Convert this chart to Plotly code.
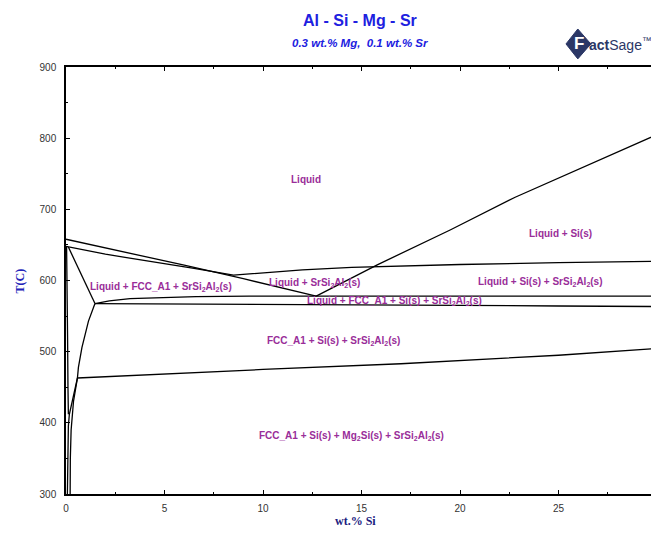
import plotly.graph_objects as go

# ---- Data ----
# Liquidus of FCC_A1 (Al) side, ends at the eutectic V
liqA_x = [0, 3, 6, 9, 12.7]
liqA_T = [658, 640, 621.5, 602.5, 578]
# SrSi2Al2 appearance line
srB_x = [0, 1, 2, 3, 4.5, 6.5, 8.5, 10, 12, 14.5, 17, 20, 25, 30]
srB_T = [648, 642, 637, 632.5, 626, 617, 607.5, 611, 615, 618.5, 620.5, 622.5, 625, 627]
# Si liquidus
siL_x = [12.7, 15.8, 19.5, 22.8, 30]
siL_T = [578, 622, 671, 717, 805]
# Solidus-type line from the Al corner to the kink
solD_x = [0.12, 1.47]
solD_T = [647, 567.6]
# Upper boundary of the four-phase band
up4_x = [1.47, 2.2, 3.25, 5, 6.6, 9.3, 12.7, 20, 30]
up4_T = [567.6, 571.5, 574.5, 576.3, 577.3, 578, 578, 578, 578]
# Lower boundary of the four-phase band
lo4_x = [1.47, 5, 10, 15, 20, 25, 30]
lo4_T = [567.6, 567.3, 566.8, 566, 565, 564.2, 563.4]
# Si solvus in FCC_A1
solvE_x = [1.47, 1.14, 0.81, 0.63, 0.58, 0.38, 0.26, 0.22, 0.21]
solvE_T = [567.6, 543, 506, 478, 463, 430, 390, 350, 300]
# Mg2Si solvus
mgF_x = [0.58, 0.36, 0.17, 0.12, 0.09, 0.07]
mgF_T = [463, 437, 412, 395, 350, 300]
# Near-axis line
axG_x = [0.03, 0.06, 0.08, 0.1, 0.12]
axG_T = [648, 600, 520, 450, 412]
# Mg2Si formation line
mgH_x = [0.58, 5.5, 10, 17, 25, 30]
mgH_T = [463, 469.5, 475, 483, 495, 504.5]

curves = [(liqA_x, liqA_T), (srB_x, srB_T), (siL_x, siL_T), (solD_x, solD_T),
          (up4_x, up4_T), (lo4_x, lo4_T), (solvE_x, solvE_T), (mgF_x, mgF_T),
          (axG_x, axG_T), (mgH_x, mgH_T)]

# Region labels
label_text = [
    "Liquid",
    "Liquid + Si(s)",
    "Liquid + FCC_A1 + SrSi<sub>2</sub>Al<sub>2</sub>(s)",
    "Liquid + SrSi<sub>2</sub>Al<sub>2</sub>(s)",
    "Liquid + Si(s) + SrSi<sub>2</sub>Al<sub>2</sub>(s)",
    "Liquid + FCC_A1 + Si(s) + SrSi<sub>2</sub>Al<sub>2</sub>(s)",
    "FCC_A1 + Si(s) + SrSi<sub>2</sub>Al<sub>2</sub>(s)",
    "FCC_A1 + Si(s) + Mg<sub>2</sub>Si(s) + SrSi<sub>2</sub>Al<sub>2</sub>(s)",
]
label_x = [12.2, 25.1, 4.8, 12.6, 24.1, 16.7, 13.6, 14.5]
label_T = [742, 666, 590.5, 596, 597.5, 570.5, 515, 382]

x_ticks = [0, 5, 10, 15, 20, 25, 30]
y_ticks = [300, 400, 500, 600, 700, 800, 900]

# ---- Figure ----
fig = go.Figure()
for cx, cy in curves:
    fig.add_trace(go.Scatter(x=cx, y=cy, mode="lines",
                             line=dict(color="black", width=1.3),
                             hoverinfo="skip", showlegend=False))

label_font = dict(family="Liberation Sans, Arial", size=10, color="#992D99")
for t, lx, ly in zip(label_text, label_x, label_T):
    fig.add_annotation(x=lx, y=ly, xref="x", yref="y", text="<b>" + t + "</b>",
                       showarrow=False, font=label_font, xanchor="center", yanchor="middle")

# Title and subtitle
fig.add_annotation(xref="paper", yref="paper", x=0.497, y=1.110, xanchor="center", yanchor="middle",
                   text="<b>Al - Si - Mg - Sr</b>", showarrow=False,
                   font=dict(family="Liberation Sans, Arial", size=16, color="#2020E0"))
fig.add_annotation(xref="paper", yref="paper", x=0.497, y=1.056, xanchor="center", yanchor="middle",
                   text="<b><i>0.3 wt.% Mg,  0.1 wt.% Sr</i></b>", showarrow=False,
                   font=dict(family="Liberation Sans, Arial", size=11.5, color="#2020E0"))

# FactSage logo (decoration)
fig.add_shape(type="path", xref="paper", yref="paper",
              path="M 0.846 1.054 L 0.866 1.089 L 0.888 1.054 L 0.866 1.019 Z",
              fillcolor="#2B3766", line=dict(color="#2B3766", width=1))
fig.add_annotation(xref="paper", yref="paper", x=0.868, y=1.054, xanchor="center", yanchor="middle",
                   text="<b>F</b>", showarrow=False,
                   font=dict(family="Liberation Sans, Arial", size=17, color="white"))
fig.add_annotation(xref="paper", yref="paper", x=0.882, y=1.054, xanchor="left", yanchor="middle",
                   text="<b>act</b>Sage<sup>™</sup>", showarrow=False,
                   font=dict(family="Liberation Sans, Arial", size=14, color="#2B3766"))

# Axis titles
fig.add_annotation(xref="paper", yref="paper", x=-0.078, y=0.5, xanchor="center", yanchor="middle",
                   text="<b>T(C)</b>", textangle=-90, showarrow=False,
                   font=dict(family="Liberation Serif, Times New Roman", size=12, color="#2424B8"))
fig.add_annotation(xref="paper", yref="paper", x=0.49, y=-0.063, xanchor="center", yanchor="middle",
                   text="<b>wt.% Si</b>", showarrow=False,
                   font=dict(family="Liberation Serif, Times New Roman", size=12, color="#1C1C80"))

axis_common = dict(showline=True, linecolor="black", linewidth=1.5, mirror="ticks",
                   ticks="inside", ticklen=4, tickwidth=1, tickcolor="black",
                   showgrid=False, zeroline=False, automargin=False,
                   ticklabeloverflow="allow",
                   tickfont=dict(family="Liberation Sans, Arial", size=10, color="#333333"))

fig.update_xaxes(range=[0, 30], tickvals=x_ticks,
                 minor=dict(dtick=2.5, ticks="inside", ticklen=2, tickcolor="black", showgrid=False),
                 ticklabelstandoff=4, **axis_common)
fig.update_yaxes(range=[300, 900], tickvals=y_ticks,
                 minor=dict(dtick=50, ticks="inside", ticklen=2, tickcolor="black", showgrid=False),
                 ticklabelstandoff=6, **axis_common)

# The page body adds an 8px offset, so the figure is sized to the remaining window
fig.update_layout(width=651, height=520, margin=dict(l=58, r=2, t=59, b=34),
                  plot_bgcolor="white", paper_bgcolor="white")

fig.write_html("out.html")
